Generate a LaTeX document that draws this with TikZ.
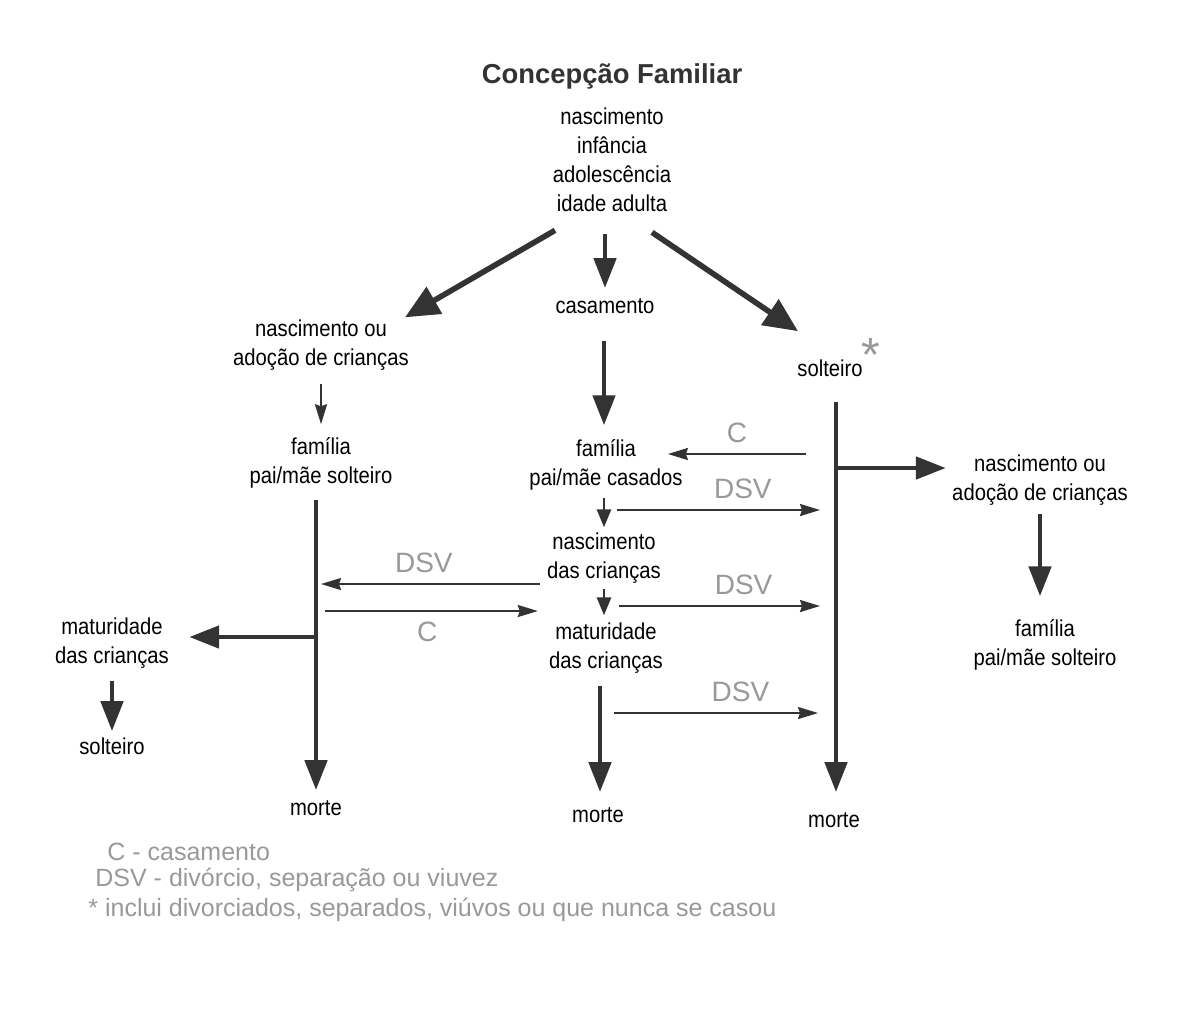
\documentclass[tikz,border=0pt]{standalone}
\usepackage{fontspec}
\setmainfont{Liberation Sans}[FakeStretch=0.88]
\newfontfamily\largafont{Liberation Sans}
\usetikzlibrary{arrows.meta,calc}

\definecolor{tinta}{gray}{0.2}
\definecolor{cinza}{gray}{0.6}

\tikzset{
	etapa/.style={align=center, inner sep=1pt, text=black, font=\fontsize{11.5}{14.5}\selectfont},
	rotulo/.style={inner sep=1pt, text=cinza, font=\largafont\fontsize{14}{14}\selectfont},
	legenda/.style={inner sep=0pt, anchor=west, text=cinza, font=\largafont\fontsize{12.5}{12.5}\selectfont},
	grosso/.style={draw=tinta, line width=2.4pt, -{Triangle[length=15pt,width=11pt]}},
	largo/.style={draw=tinta, line width=2.8pt, -{Triangle[length=17pt,width=15pt]}},
	medio/.style={draw=tinta, line width=1.4pt, -{Triangle[length=9pt,width=7pt]}},
	fino/.style={draw=tinta, line width=1pt, -{Stealth[length=10pt,width=6pt,inset=1pt]}},
	tronco/.style={draw=tinta, line width=2.4pt}
}

\begin{document}
\begin{tikzpicture}[x=0.5pt, y=-0.5pt]
	\useasboundingbox [fill=white] (0,0) rectangle (1204,1030);

	\node [inner sep=1pt, text=tinta, font=\largafont\bfseries\fontsize{13.7}{14}\selectfont] (titulo) at (612,76) {Concepção Familiar};
	\node [etapa] (vida) at (612,160) {nascimento\\infância\\adolescência\\idade adulta};

	\node [etapa] (casam) at (605,306) {casamento};
	\node [etapa] (adocaoE) at (321,345) {nascimento ou\\adoção de crianças};
	\node [etapa] (familiaE) at (321,463) {família\\pai/mãe solteiro};
	\node [etapa] (maturE) at (112,643) {maturidade\\das crianças};
	\node [etapa] (soltE) at (112,746) {solteiro};
	\node [etapa] (morteE) at (316,808) {morte};

	\node [etapa] (familiaC) at (606,465) {família\\pai/mãe casados};
	\node [etapa] (nascC) at (604,558) {nascimento\\das crianças};
	\node [etapa] (maturC) at (606,648) {maturidade\\das crianças};
	\node [etapa] (morteC) at (598,815) {morte};

	\node [etapa] (soltD) at (830,368) {solteiro};
	\node [inner sep=0pt, text=cinza, font=\largafont\fontsize{24}{24}\selectfont, anchor=south west] (ast) at ($(soltD.north east)+(-4,15)$) {*};
	\node [etapa] (adocaoD) at (1040,480) {nascimento ou\\adoção de crianças};
	\node [etapa] (familiaD) at (1045,645) {família\\pai/mãe solteiro};
	\node [etapa] (morteD) at (834,820) {morte};

	\draw [largo] ($(vida.south)+(-57,16)$) -- ($(adocaoE.north)+(84,0)$);
	\draw [grosso] ($(vida.south)+(-7,20)$) -- ($(casam.north)+(0,-8)$);
	\draw [largo] ($(vida.south)+(40,18)$) -- ($(soltD.north)+(-32,-26)$);

	\draw [grosso] ($(casam.south)+(-1,25)$) -- ($(familiaC.north)+(-2,-12)$);
	\draw [medio] ($(familiaC.south)+(-2,5)$) -- ($(nascC.north)+(0,-3)$);
	\draw [medio] ($(nascC.south)+(0,3)$) -- ($(maturC.north)+(-2,-5)$);
	\draw [grosso] ($(maturC.south)+(-6,10)$) -- ($(morteC.north)+(2,-13)$);

	\draw [fino] ($(adocaoE.south)+(0,11)$) -- ($(familiaE.north)+(0,-11)$);
	\coordinate (topoE) at (316,500);
	\coordinate (ramoE) at (316,637);
	\draw [tronco] (topoE) -- (ramoE);
	\draw [grosso] (ramoE) -- ($(morteE.north)+(0,-8)$);
	\draw [grosso] (ramoE) -- ($(ramoE -| maturE.east)+(18,0)$);
	\draw [grosso] ($(maturE.south)+(0,10)$) -- ($(soltE.north)+(0,-4)$);

	\coordinate (topoD) at (836,402);
	\coordinate (ramoD) at (836,468);
	\draw [tronco] (topoD) -- (ramoD);
	\draw [grosso] (ramoD) -- ($(morteD.north)+(2,-18)$);
	\draw [grosso] (ramoD) -- ($(ramoD -| adocaoD.west)+(-4,0)$);
	\draw [grosso] ($(adocaoD.south)+(0,6)$) -- ($(familiaD.north)+(-5,-21)$);

	\coordinate (c1) at (836,454);
	\coordinate (d1) at (836,510);
	\coordinate (d2) at (316,584);
	\coordinate (c2) at (316,611);
	\coordinate (d3) at (836,606);
	\coordinate (d4) at (836,713);
	\draw [fino] ($(c1)+(-30,0)$) -- ($(c1 -| familiaC.east)+(-17,0)$) node [rotulo, pos=0.5, above=4pt] (rc1) {C};
	\draw [fino] ($(d1 -| familiaC.south)+(11,0)$) -- ($(d1)+(-16,0)$) node [rotulo, pos=0.62, above=4pt] (rd1) {DSV};
	\draw [fino] ($(d2 -| nascC.west)+(-5,0)$) -- ($(d2)+(5,0)$) node [rotulo, pos=0.53, above=4pt] (rd2) {DSV};
	\draw [fino] ($(c2)+(9,0)$) -- ($(c2 -| maturC.west)+(-9,0)$) node [rotulo, pos=0.48, below=4pt] (rc2) {C};
	\draw [fino] ($(d3 -| nascC.south)+(15,0)$) -- ($(d3)+(-16,0)$) node [rotulo, pos=0.62, above=4pt] (rd3) {DSV};
	\draw [fino] ($(d4 -| maturC.south)+(8,0)$) -- ($(d4)+(-18,0)$) node [rotulo, pos=0.62, above=4pt] (rd4) {DSV};

	\node [legenda] (legC) at (107,852) {C - casamento};
	\node [legenda] (legD) at (95,880) {DSV - divórcio, separação ou viuvez};
	\node [legenda] (legA) at (88,910) {* inclui divorciados, separados, viúvos ou que nunca se casou};
\end{tikzpicture}
\end{document}
